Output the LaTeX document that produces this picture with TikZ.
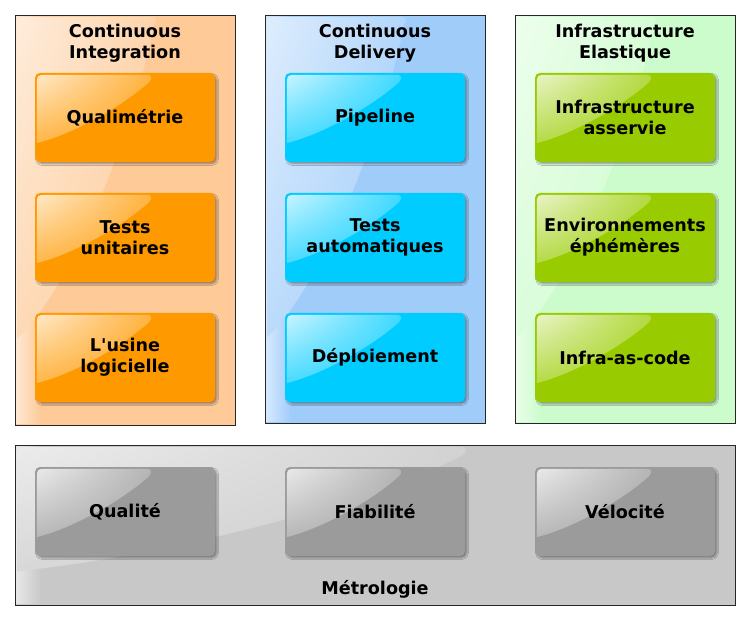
\documentclass[tikz,border=0pt]{standalone}
\usepackage{fontspec}
\setmainfont{DejaVu Sans}[Ligatures=TeXOff]
\usetikzlibrary{shadings,shadows.blur}

% panel backgrounds
\definecolor{ciPanel}{HTML}{FDCA98}
\definecolor{cdPanel}{HTML}{A0CCFA}
\definecolor{iePanel}{HTML}{CCFCCC}
\definecolor{mtPanel}{HTML}{C8C8C8}
% tiles
\definecolor{ciTile}{HTML}{FF9900}
\definecolor{cdTile}{HTML}{00CCFF}
\definecolor{ieTile}{HTML}{99CC00}
\definecolor{mtTile}{HTML}{9B9B9B}

\newcommand\tilefont{\fontsize{17.6pt}{21pt}\selectfont\bfseries}

% outline of the glossy highlight in the upper-left part of a #1 x #2 box
\newcommand\glossshape[2]{(2,{0.79*#2}) -- (2,7) .. controls (2,4) and (4,2) .. (7,2)
  -- ({0.62*#1},2) .. controls ({0.62*#1+5},2) and ({0.62*#1+6},5) .. ({0.62*#1+3},9)
  .. controls ({0.51*#1},{0.34*#2}) and ({0.23*#1},{0.68*#2}) .. (2,{0.79*#2}) -- cycle}

% highlight over node #1 (size #3 x #4) in colour #2, corner tints #5..#8
\newcommand\glossover[8]{%
  \begin{scope}[shift={(#1.north west)}]
    \shade[upper left=#2!#5!white, upper right=#2!#6!white,
           lower left=#2!#7!white, lower right=#2!#8!white] \glossshape{#3}{#4};
  \end{scope}}

% a tile: box, highlight, label
\newcommand\tile[5]{%
  \node[tilebox=#2] (#1box) at (#3,#4) {};
  \glossover{#1box}{#2}{180}{89}{22}{75}{72}{88}
  \node[label text] (#1) at (#1box.center) {#5};}

\tikzset{
  x=1pt, y=-1pt,
  tilebox/.style={rectangle, rounded corners=5pt, minimum width=180pt, minimum height=89pt,
    inner sep=0pt, fill=#1,
    blur shadow={shadow xshift=2pt, shadow yshift=-2pt, shadow blur radius=1.5pt, shadow opacity=35}},
  panel/.style n args={3}{rectangle, inner sep=0pt, outer sep=0pt,
    minimum width=#2pt, minimum height=#3pt, fill=#1},
  frame/.style={draw=black!85, line width=0.8pt},
  label text/.style={align=center, font=\tilefont, inner sep=0pt}
}

\begin{document}
\begin{tikzpicture}
\useasboundingbox (0,0) rectangle (750,620);
\fill[white] (0,0) rectangle (750,620);

% the four panels, each with a light left edge and a highlight
\node[panel={ciPanel}{220}{410}] (ci) at (125,220) {};
\node[panel={cdPanel}{220}{408}] (cd) at (375,219) {};
\node[panel={iePanel}{220}{408}] (ie) at (625,219) {};
\node[panel={mtPanel}{720}{160}] (mt) at (375,525) {};
\foreach \p/\c/\w/\h in {ci/ciPanel/220/410, cd/cdPanel/220/408, ie/iePanel/220/408, mt/mtPanel/720/160}{
  \shade[left color=\c!40!white, right color=\c]
    ([shift={(0,1.5)}]\p.north west) rectangle ([shift={(26,-1.5)}]\p.south west);
  \glossover{\p}{\c}{\w}{\h}{35}{82}{72}{92}
}

% panel headings
\node[label text] (ciTitle) at (125,43.5) {Continuous\\Integration};
\node[label text] (cdTitle) at (375,43.5) {Continuous\\Delivery};
\node[label text] (ieTitle) at (625,43.5) {Infrastructure\\Elastique};
\node[label text, anchor=base] (mtTitle) at (375,594.5) {Métrologie};

% Continuous Integration
\tile{quali}{ciTile}{125}{117.5}{Qualimétrie}
\tile{tu}{ciTile}{125}{237.5}{Tests\\unitaires}
\tile{usine}{ciTile}{125}{357.5}{L'usine\\logicielle}

% Continuous Delivery
\tile{pipe}{cdTile}{375}{117.5}{Pipeline}
\tile{ta}{cdTile}{375}{237.5}{Tests\\automatiques}
\tile{deploy}{cdTile}{375}{357.5}{Déploiement}

% Infrastructure Elastique
\tile{infa}{ieTile}{625}{117.5}{Infrastructure\\asservie}
\tile{envs}{ieTile}{625}{237.5}{Environnements\\éphémères}
\tile{iac}{ieTile}{625}{357.5}{Infra-as-code}

% Métrologie
\tile{qual}{mtTile}{125}{511.5}{Qualité}
\tile{fiab}{mtTile}{375}{511.5}{Fiabilité}
\tile{velo}{mtTile}{625}{511.5}{Vélocité}

% panel frames on top
\foreach \p in {ci,cd,ie,mt}{\draw[frame] (\p.north west) rectangle (\p.south east);}
\end{tikzpicture}
\end{document}
